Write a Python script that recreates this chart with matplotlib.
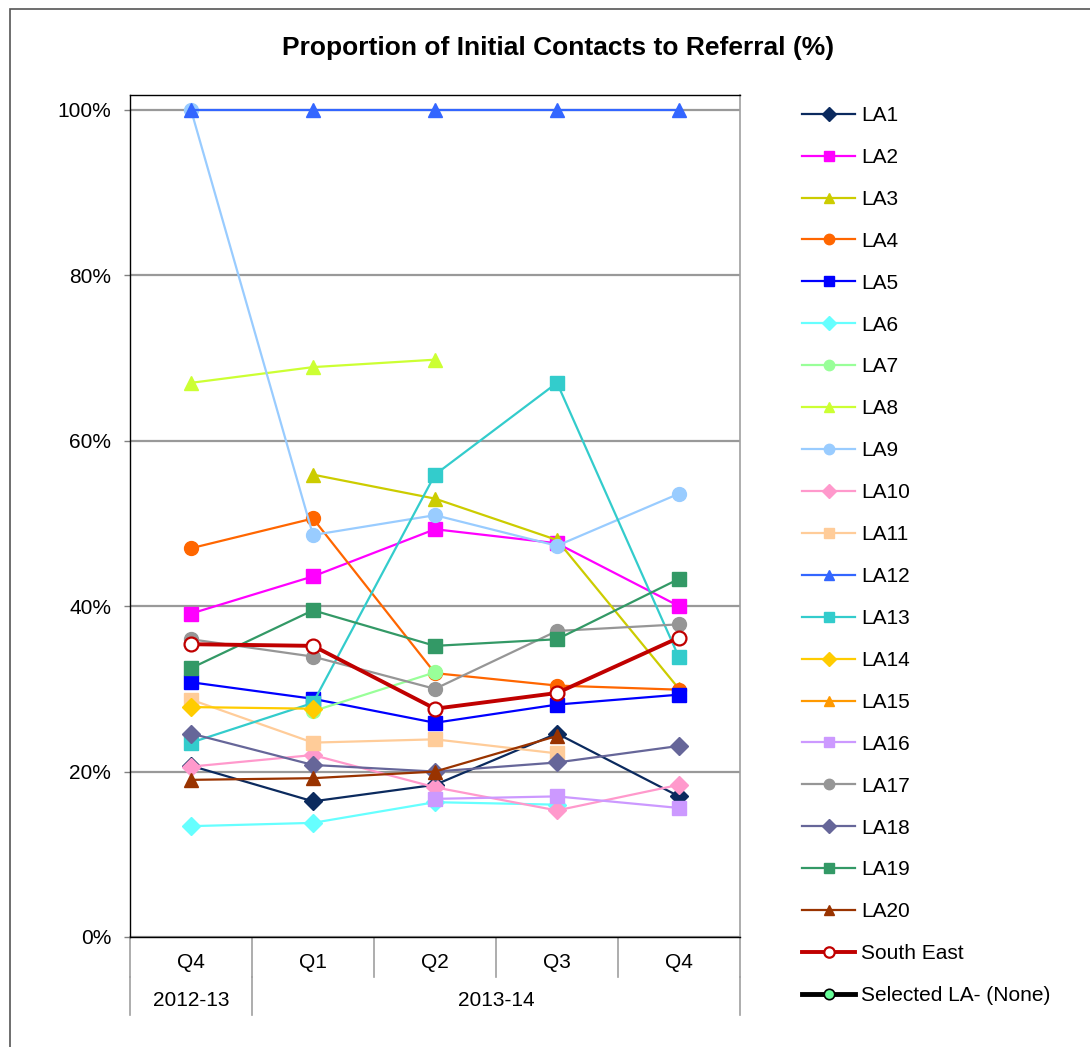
import numpy as np
import matplotlib
matplotlib.use("Agg")
import matplotlib.pyplot as plt
from matplotlib.ticker import FuncFormatter

plt.rcParams["font.family"] = ["Liberation Sans", "DejaVu Sans"]

nan = np.nan
quarters = ["Q4", "Q1", "Q2", "Q3", "Q4"]
years = ["2012-13", "2013-14"]
year_spans = [1, 4]  # number of quarters under each year label

la1 = [20.7, 16.4, 18.4, 24.6, 17.0]
la2 = [39.1, 43.6, 49.3, 47.6, 40.0]
la3 = [nan, 55.9, 53.0, 48.0, 30.0]
la4 = [47.0, 50.6, 31.9, 30.4, 29.9]
la5 = [30.8, 28.8, 25.9, 28.1, 29.3]
la6 = [13.4, 13.8, 16.3, 16.0, nan]
la7 = [nan, 27.3, 32.0, nan, nan]
la8 = [67.0, 68.9, 69.8, nan, nan]
la9 = [100.0, 48.6, 51.0, 47.3, 53.6]
la10 = [20.6, 22.0, 18.1, 15.3, 18.4]
la11 = [28.7, 23.5, 23.9, 22.2, nan]
la12 = [100.0, 100.0, 100.0, 100.0, 100.0]
la13 = [23.5, 28.3, 55.9, 67.0, 33.8]
la14 = [27.8, 27.6, nan, nan, nan]
la15 = [nan, nan, nan, nan, nan]
la16 = [nan, nan, 16.7, 17.0, 15.6]
la17 = [36.0, 33.9, 30.0, 37.0, 37.8]
la18 = [24.6, 20.8, 20.0, 21.1, 23.1]
la19 = [32.5, 39.5, 35.2, 36.0, 43.3]
la20 = [19.0, 19.2, 20.0, 24.3, nan]
south_east = [35.4, 35.2, 27.6, 29.5, 36.2]
selected = [nan, nan, nan, nan, nan]

series = [
    ("LA1", la1, "#0B2A5E", "D"),
    ("LA2", la2, "#FF00FF", "s"),
    ("LA3", la3, "#CCCC00", "^"),
    ("LA4", la4, "#FF6600", "o"),
    ("LA5", la5, "#0000FF", "s"),
    ("LA6", la6, "#66FFFF", "D"),
    ("LA7", la7, "#99FF99", "o"),
    ("LA8", la8, "#CCFF33", "^"),
    ("LA9", la9, "#99CCFF", "o"),
    ("LA10", la10, "#FF99CC", "D"),
    ("LA11", la11, "#FFCC99", "s"),
    ("LA12", la12, "#3366FF", "^"),
    ("LA13", la13, "#33CCCC", "s"),
    ("LA14", la14, "#FFCC00", "D"),
    ("LA15", la15, "#FF9900", "^"),
    ("LA16", la16, "#CC99FF", "s"),
    ("LA17", la17, "#969696", "o"),
    ("LA18", la18, "#666699", "D"),
    ("LA19", la19, "#339966", "s"),
    ("LA20", la20, "#993300", "^"),
]

W, H = 1090, 1047
fig = plt.figure(figsize=(W / 100, H / 100), dpi=100)
ax = fig.add_axes([130 / W, 1 - 937 / H, 610 / W, 842 / H])

x = np.arange(len(quarters)) + 0.5
for name, vals, col, mk in series:
    ms = 9 if mk == "D" else 10
    ax.plot(x, vals, color=col, lw=1.6, marker=mk, ms=ms, mec=col, mfc=col, label=name)
ax.plot(x, south_east, color="#C00000", lw=2.8, marker="o", ms=10, mfc="white",
        mec="#C00000", mew=1.6, label="South East")
ax.plot(x, selected, color="black", lw=3.5, marker="o", ms=10, mfc="#66FF99",
        mec="black", mew=1.2, label="Selected LA- (None)")

ax.set_xlim(0, len(quarters))
ax.set_ylim(0, 101.8)
ax.set_yticks([0, 20, 40, 60, 80, 100])
ax.yaxis.set_major_formatter(FuncFormatter(lambda v, p: f"{v:.0f}%"))
ax.yaxis.grid(True, color="#999999", lw=1.6)
ax.set_axisbelow(True)
ax.tick_params(axis="y", length=4.5, width=1, color="#808080", pad=9, labelsize=15)
ax.set_xticks([])
for s in ["left", "bottom", "top"]:
    ax.spines[s].set_color("black")
    ax.spines[s].set_linewidth(1)
ax.spines["right"].set_color("#A0A0A0")
ax.spines["right"].set_linewidth(1.2)

# two-level category axis
xt = ax.get_xaxis_transform()
lvl1 = -40 / 842
lvl2 = -78 / 842
for i in range(len(quarters) + 1):
    ax.plot([i, i], [0, lvl1], transform=xt, color="#A0A0A0", lw=1.2, clip_on=False)
for xi, q in zip(x, quarters):
    ax.text(xi, -26 / 842, q, transform=xt, ha="center", va="center", fontsize=15)
edges = np.concatenate([[0], np.cumsum(year_spans)])
for e in edges:
    ax.plot([e, e], [lvl1, lvl2], transform=xt, color="#A0A0A0", lw=1.2, clip_on=False)
for (a, b), yr in zip(zip(edges[:-1], edges[1:]), years):
    ax.text((a + b) / 2, -64 / 842, yr, transform=xt, ha="center", va="center", fontsize=15)

fig.text(558 / W, 1 - 48 / H, "Proportion of Initial Contacts to Referral (%)",
         ha="center", va="center", fontsize=19, fontweight="bold")

leg = fig.legend(loc="upper left", bbox_to_anchor=(802 / W, 1 - 106 / H), frameon=False,
                 fontsize=15, handlelength=2.55, handletextpad=0.3, labelspacing=1.1,
                 borderpad=0, borderaxespad=0, markerscale=0.75)

# outer chart frame (right and bottom edges fall outside the picture)
fig.add_artist(plt.Rectangle((10 / W, -0.1), 1.2, 1.1 - 9 / H, transform=fig.transFigure,
                             fill=False, edgecolor="#555555", lw=1.2))

fig.savefig("out.png", dpi=100)
